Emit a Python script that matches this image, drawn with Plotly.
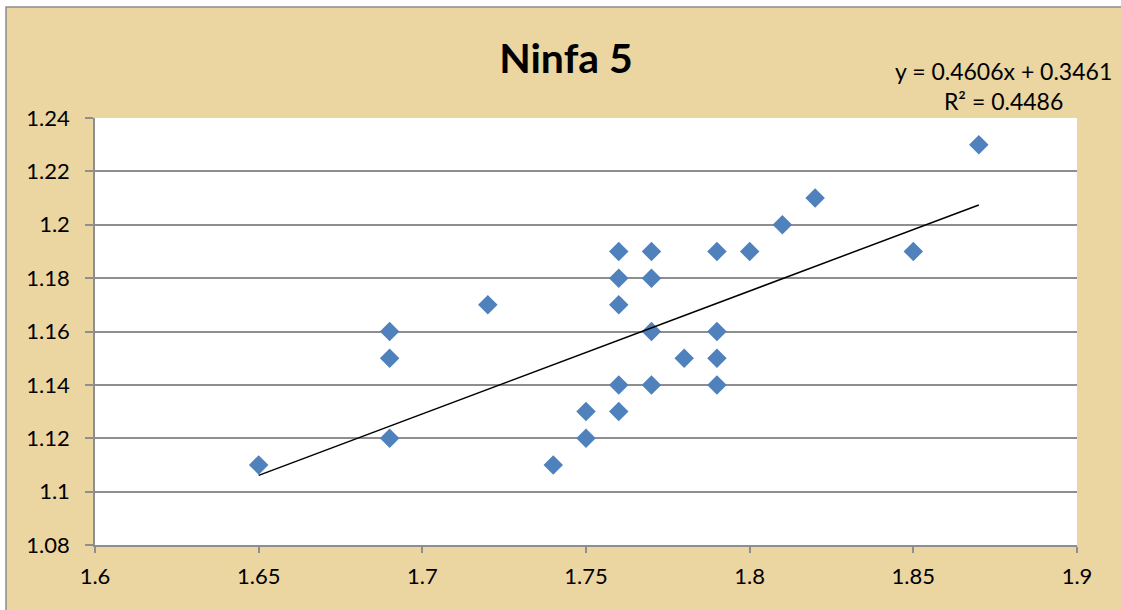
import plotly.graph_objects as go

x_vals = [1.65, 1.69, 1.69, 1.69, 1.72, 1.74, 1.75, 1.75, 1.76, 1.76, 1.76, 1.76, 1.76,
          1.77, 1.77, 1.77, 1.77, 1.78, 1.79, 1.79, 1.79, 1.79, 1.80, 1.81, 1.82, 1.85, 1.87]
y_vals = [1.11, 1.16, 1.15, 1.12, 1.17, 1.11, 1.13, 1.12, 1.19, 1.18, 1.17, 1.14, 1.13,
          1.19, 1.18, 1.16, 1.14, 1.15, 1.19, 1.16, 1.15, 1.14, 1.19, 1.20, 1.21, 1.19, 1.23]
slope = 0.4606
intercept = 0.3461
r_squared = 0.4486
x_ticks = [1.6, 1.65, 1.7, 1.75, 1.8, 1.85, 1.9]
y_ticks = [1.08, 1.1, 1.12, 1.14, 1.16, 1.18, 1.2, 1.22, 1.24]

FONT = "Lato"
BG = "#EBD5A0"
GRID = "#8E8E8E"

fig = go.Figure()
fig.add_trace(go.Scatter(
    x=x_vals, y=y_vals, mode="markers",
    marker=dict(symbol="diamond", size=15, color="#4F81BD", line=dict(width=0)),
    showlegend=False, hoverinfo="x+y"))

xl = [min(x_vals), max(x_vals)]
fig.add_trace(go.Scatter(
    x=xl, y=[slope * v + intercept for v in xl], mode="lines",
    line=dict(color="black", width=1.5), showlegend=False, hoverinfo="skip"))

fig.update_layout(
    width=1121, height=610,
    margin=dict(l=95, r=44, t=118, b=65),
    paper_bgcolor="white", plot_bgcolor="white",
    font=dict(family=FONT, size=22, color="black"),
    title=dict(text="<b>Ninfa 5</b>", x=566 / 1121, xref="container", y=1 - 59 / 610, yref="container",
               yanchor="middle", xanchor="center", font=dict(family=FONT, size=41, color="black")),
    xaxis=dict(range=[1.6, 1.9], tickvals=x_ticks, ticktext=[f"{v:g}" for v in x_ticks],
               showgrid=False, zeroline=False, showline=True, linecolor=GRID, linewidth=1.5,
               ticks="outside", ticklen=6, tickcolor=GRID, tickwidth=1.5, ticklabelstandoff=5),
    yaxis=dict(range=[1.08, 1.24], tickvals=y_ticks, ticktext=[f"{v:g}" for v in y_ticks],
               showgrid=True, gridcolor=GRID, gridwidth=1.5, zeroline=False,
               showline=True, linecolor=GRID, linewidth=1.5,
               ticks="outside", ticklen=8, tickcolor=GRID, tickwidth=1.5, ticklabelstandoff=11),
    shapes=[
        dict(type="rect", xref="paper", yref="paper", x0=-89/982, x1=1 + 50/982,
             y0=-70/427, y1=1 + (118 - 7) / 427, fillcolor=BG,
             line=dict(color="#8C8C8C", width=1.5), layer="below"),
        dict(type="rect", xref="paper", yref="paper", x0=0, x1=1, y0=0, y1=1,
             fillcolor="white", line=dict(width=0), layer="below"),
    ],
    annotations=[
        dict(text=f"y = {slope}x + {intercept}<br>R² = {r_squared}", xref="paper", yref="paper",
             x=(1003 - 95) / 982, y=(545 - 86) / 427, xanchor="center", yanchor="middle",
             showarrow=False, align="center", font=dict(family=FONT, size=23, color="black")),
    ],
)

fig.write_html("out.html", config={"displayModeBar": False},
               post_script="document.body.style.margin='0';")
